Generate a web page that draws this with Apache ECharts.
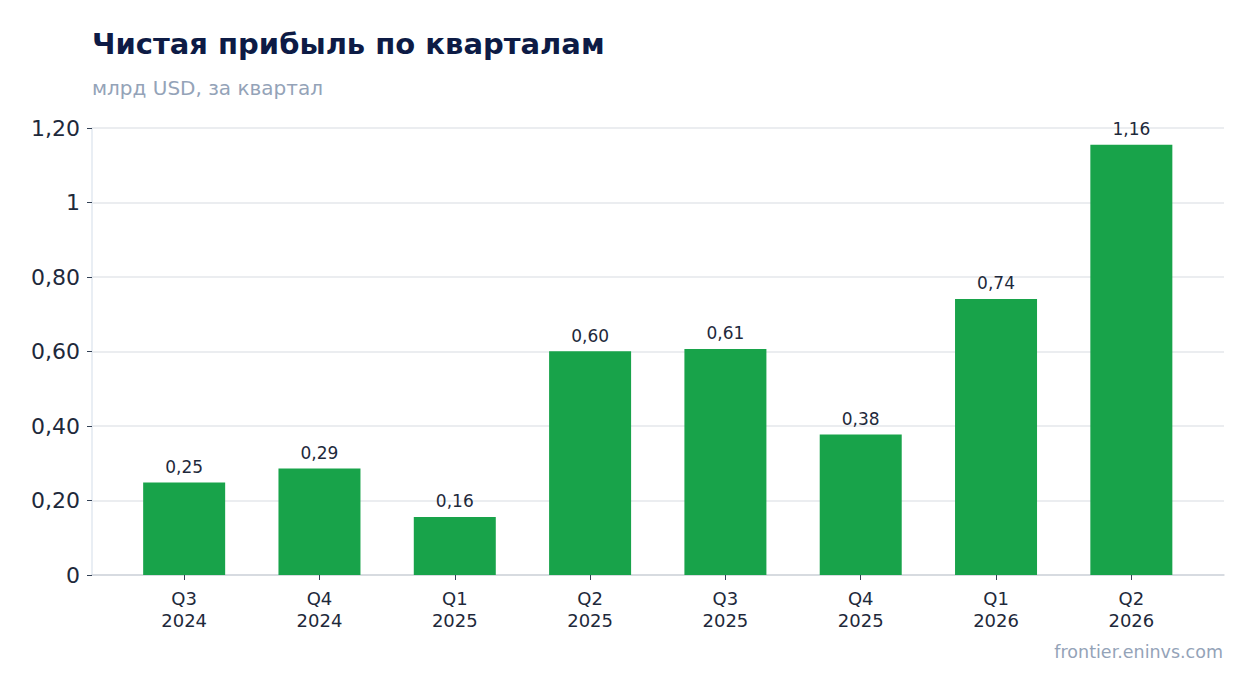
<!DOCTYPE html>
<html>
<head>
<meta charset="utf-8">
<script src="https://cdn.jsdelivr.net/npm/echarts@6/dist/echarts.min.js"></script>
<style>
  html, body { margin: 0; padding: 0; background: #fff; }
  #chart { width: 1254px; height: 693px; }
</style>
</head>
<body>
<div id="chart"></div>
<script>
const quarters = ['Q3\n2024', 'Q4\n2024', 'Q1\n2025', 'Q2\n2025', 'Q3\n2025', 'Q4\n2025', 'Q1\n2026', 'Q2\n2026'];
const netProfit = [0.248, 0.286, 0.156, 0.601, 0.607, 0.377, 0.741, 1.155];
const yTicks = [0, 0.2, 0.4, 0.6, 0.8, 1, 1.2];

const fmt = v => v === 0 ? '0' : (v === 1 ? '1' : v.toFixed(2).replace('.', ','));
const font = 'DejaVu Sans';

const chart = echarts.init(document.getElementById('chart'), null, { renderer: 'svg' });
chart.setOption({
  backgroundColor: '#ffffff',
  textStyle: { fontFamily: font },
  title: [
    {
      text: 'Чистая прибыль по кварталам',
      left: 92, top: 29, padding: 0,
      textStyle: { fontFamily: font, fontSize: 29, fontWeight: 'bold', color: '#0d1b45' }
    },
    {
      text: 'млрд USD, за квартал',
      left: 92, top: 78, padding: 0,
      textStyle: { fontFamily: font, fontSize: 20, fontWeight: 'normal', color: '#94a3b8' }
    },
    {
      text: 'frontier.eninvs.com',
      right: 31, top: 643, padding: 0,
      textStyle: { fontFamily: font, fontSize: 17.5, fontWeight: 'normal', color: '#94a3b8' }
    }
  ],
  // grid 0: full plot area (y axis, gridlines, baseline); grid 1: inset band for the bars
  grid: [
    { left: 92, right: 30, top: 128, bottom: 118 },
    { left: 116.5, right: 55, top: 128, bottom: 118 }
  ],
  xAxis: [
    {
      type: 'category', gridIndex: 0, data: quarters,
      axisLine: { lineStyle: { color: '#d1d5db', width: 1.5 } },
      axisTick: { show: false },
      axisLabel: { show: false }
    },
    {
      type: 'category', gridIndex: 1, data: quarters,
      axisLine: { show: false },
      axisTick: { show: true, alignWithLabel: true, length: 5, lineStyle: { color: '#334155' } },
      axisLabel: { fontSize: 18, color: '#1e293b', lineHeight: 22, margin: 12 }
    }
  ],
  yAxis: [
    {
      type: 'value', gridIndex: 0,
      min: 0, max: 1.2, interval: 0.2,
      axisLine: { show: true, lineStyle: { color: '#e2e8f0', width: 1.5 } },
      axisTick: { show: true, length: 5, lineStyle: { color: '#334155' } },
      axisLabel: {
        fontSize: 22, color: '#1e293b', margin: 12, padding: [3, 0, 0, 0],
        formatter: v => {
          const t = yTicks.find(k => Math.abs(k - v) < 1e-9);
          return fmt(t === undefined ? v : t);
        }
      },
      splitLine: { lineStyle: { color: '#e5e7eb', width: 1.5 } }
    },
    {
      type: 'value', gridIndex: 1,
      min: 0, max: 1.2, interval: 0.2,
      show: false
    }
  ],
  series: [{
    type: 'bar',
    xAxisIndex: 1, yAxisIndex: 1,
    data: netProfit,
    barWidth: 82,
    itemStyle: { color: '#18a34a' },
    label: {
      show: true, position: 'top', distance: 7,
      fontSize: 17, color: '#1e293b',
      formatter: p => p.value.toFixed(2).replace('.', ',')
    }
  }]
});
</script>
</body>
</html>
